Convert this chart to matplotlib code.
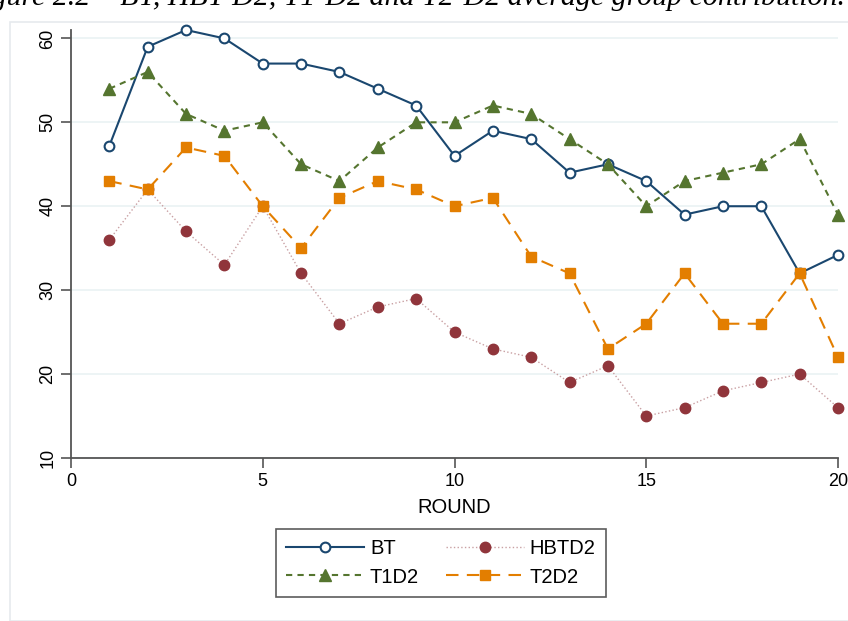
import numpy as np
import matplotlib.pyplot as plt
from matplotlib.patches import Rectangle

rounds = np.arange(1, 21)
bt = [47.2, 59, 61, 60, 57, 57, 56, 54, 52, 46, 49, 48, 44, 45, 43, 39, 40, 40, 32, 34.2]
hbtd2 = [36, 42, 37, 33, 40, 32, 26, 28, 29, 25, 23, 22, 19, 21, 15, 16, 18, 19, 20, 16]
t1d2 = [54, 56, 51, 49, 50, 45, 43, 47, 50, 50, 52, 51, 48, 45, 40, 43, 44, 45, 48, 39]
t2d2 = [43, 42, 47, 46, 40, 35, 41, 43, 42, 40, 41, 34, 32, 23, 26, 32, 26, 26, 32, 22]

title = 'Figure 2.2 \u2013 BT, HBT-D2, T1-D2 and T2-D2 average group contribution.'

plt.rcParams['font.family'] = ['Liberation Sans', 'DejaVu Sans']

fig = plt.figure(figsize=(8.48, 6.21), dpi=100)
# faint outer graph frame
fig.patches.append(Rectangle((10/848, 0.0), 1.0, 1 - 22/621, transform=fig.transFigure,
                             fill=False, edgecolor='#e6eaee', linewidth=1.2))
# title is cut off by the page crop, as in the source
fig.text(845/848, 1 - 5/621, title, ha='right', va='baseline', fontsize=21.5,
         family='Liberation Serif', style='italic')

ax = fig.add_axes([71/848, 1 - 458/621, (838 - 71)/848, (458 - 30)/621])

l_bt, = ax.plot(rounds, bt, '-', color='#1a476f', lw=1.5, marker='o', ms=7,
                mfc='white', mec='#1a476f', mew=1.5, label='BT', clip_on=False)
l_hb, = ax.plot(rounds, hbtd2, ':', color='#c9a0a3', lw=1.0, marker='o', ms=7.5,
                mfc='#90353b', mec='#90353b', label='HBTD2', clip_on=False)
l_t1, = ax.plot(rounds, t1d2, '--', color='#55752f', lw=1.5, dashes=(3, 2.5), marker='^', ms=8,
                mfc='#55752f', mec='#55752f', label='T1D2', clip_on=False)
l_t2, = ax.plot(rounds, t2d2, '--', color='#e37e00', lw=1.5, dashes=(6, 4), marker='s', ms=7.5,
                mfc='#e37e00', mec='#e37e00', label='T2D2', clip_on=False)

ax.set_xlim(0, 20)
ax.set_ylim(10, 61)
ax.set_xticks([0, 5, 10, 15, 20])
ax.set_yticks([10, 20, 30, 40, 50, 60])
ax.grid(axis='y', color='#eaf2f3', lw=1.2)
ax.set_axisbelow(True)
for s in ['top', 'right']:
    ax.spines[s].set_visible(False)
for s in ['left', 'bottom']:
    ax.spines[s].set_color('#555555')
    ax.spines[s].set_linewidth(1.3)
ax.tick_params(length=7, width=1.2, color='#555555', labelsize=13)
for lab in ax.get_yticklabels():
    lab.set_rotation(90)
    lab.set_va('center')
ax.set_xlabel('ROUND', fontsize=14.5, labelpad=6)

# row-major order like the source: BT, HBTD2 / T1D2, T2D2
leg = fig.legend([l_bt, l_t1, l_hb, l_t2], ['BT', 'T1D2', 'HBTD2', 'T2D2'],
                 loc='center', bbox_to_anchor=(441/848, 1 - 563/621), ncol=2,
                 fontsize=14.5, handlelength=3.85, handletextpad=0.3,
                 columnspacing=1.35, labelspacing=0.45, borderpad=0.5,
                 frameon=True, fancybox=False, edgecolor='#333333')
leg.get_frame().set_linewidth(1.2)

fig.savefig('out.png', dpi=100)
